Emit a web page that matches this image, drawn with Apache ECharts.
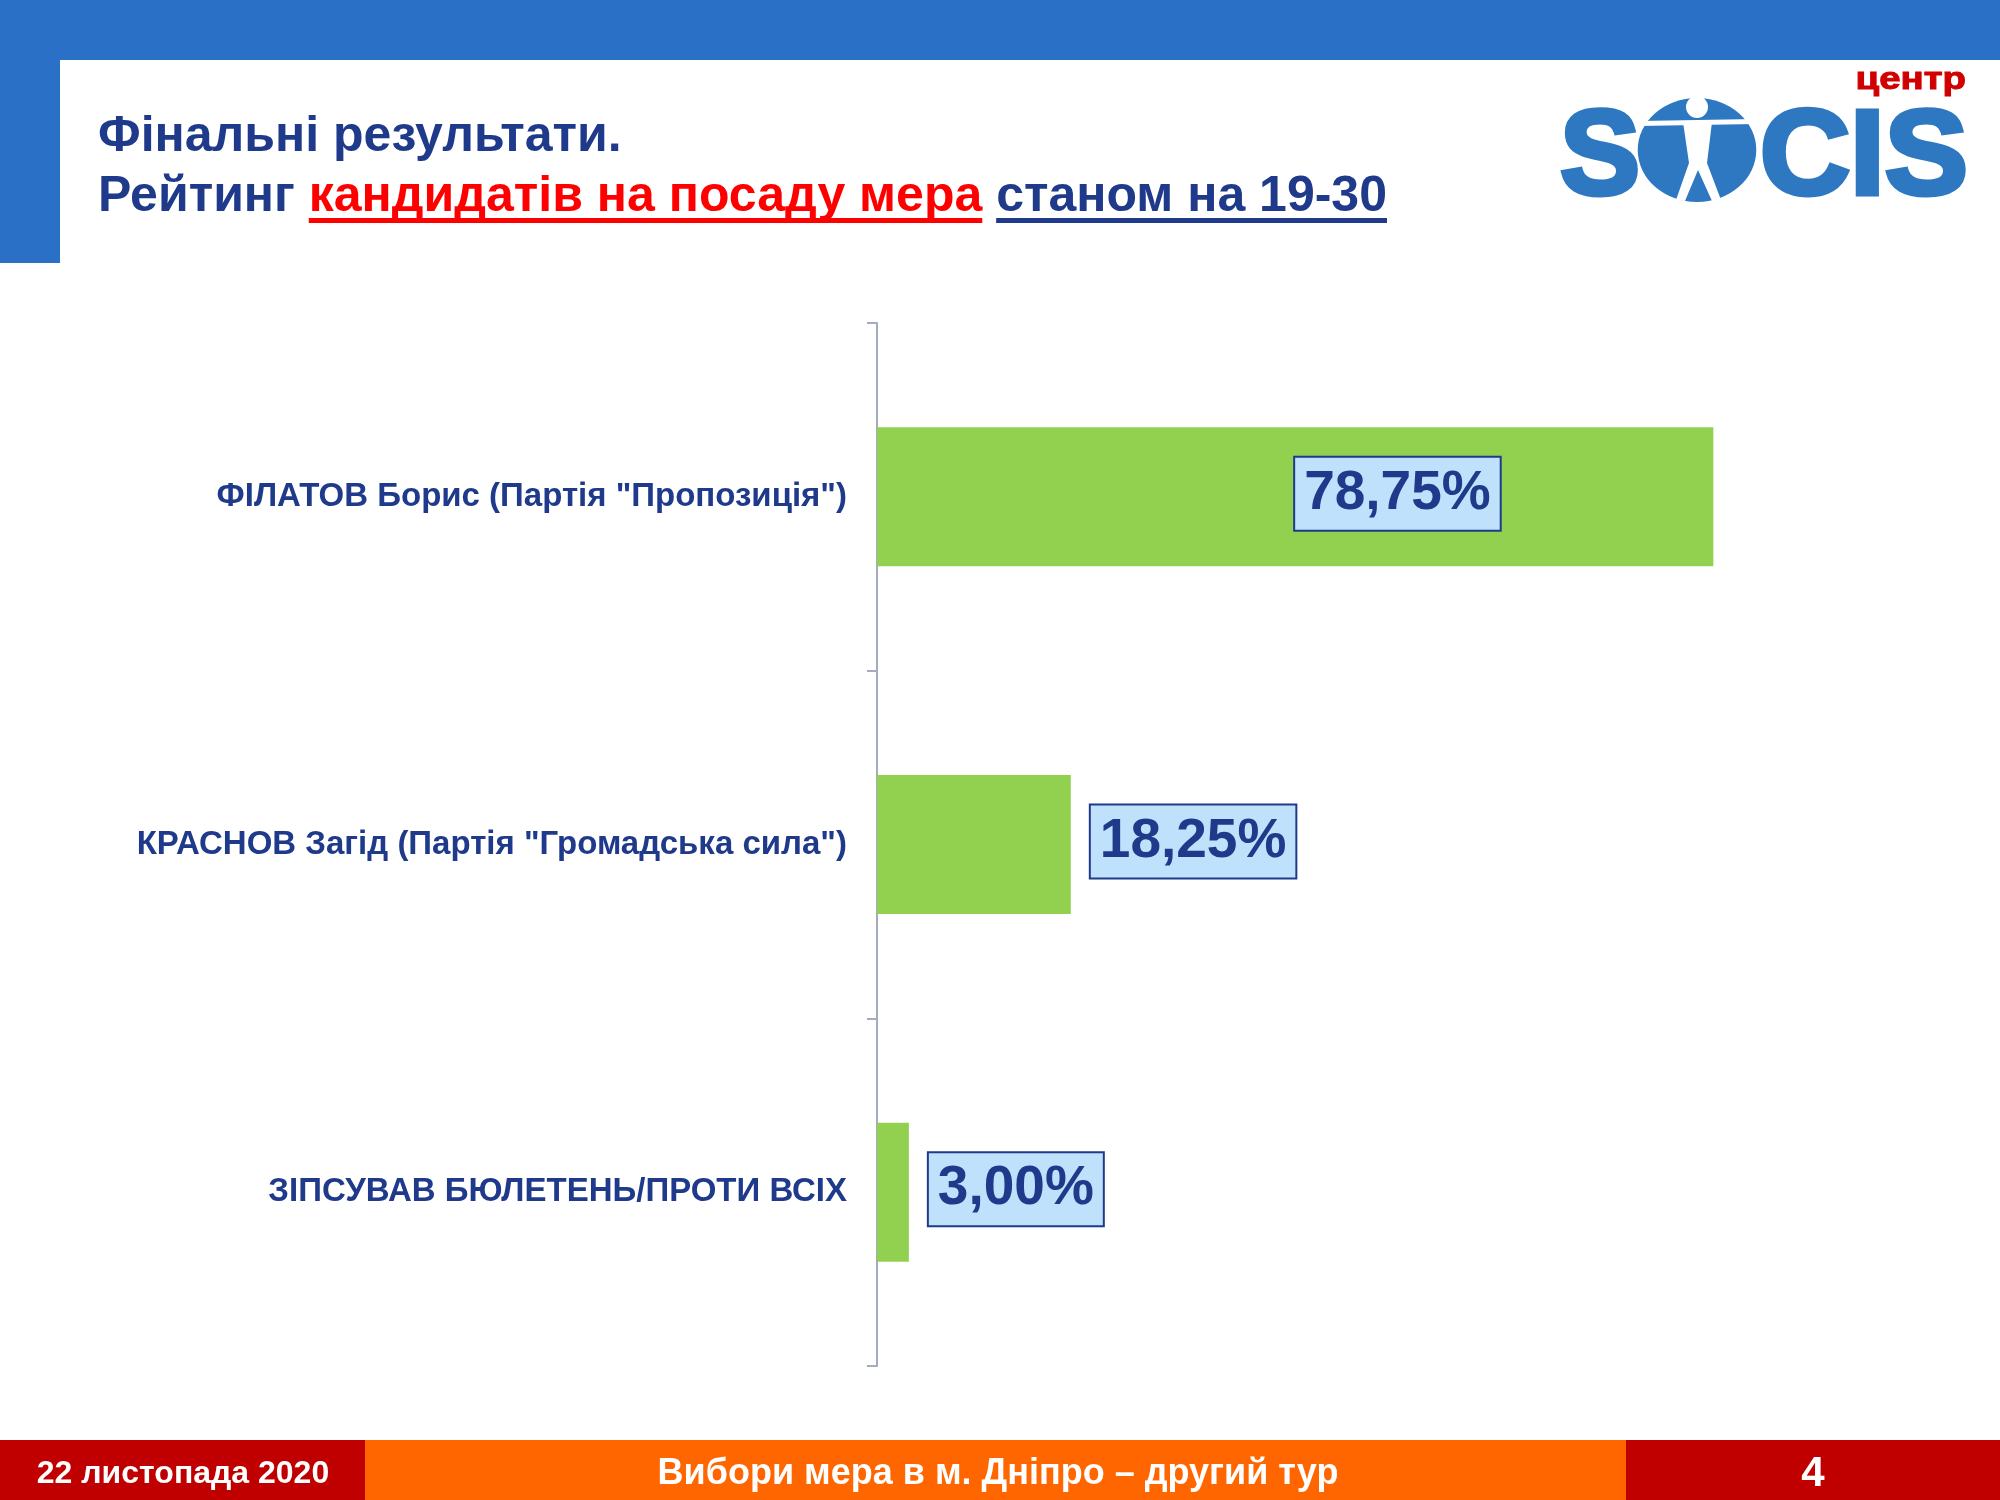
<!DOCTYPE html>
<html>
<head>
<meta charset="utf-8">
<script src="https://cdn.jsdelivr.net/npm/echarts@6/dist/echarts.min.js"></script>
<style>
html,body{margin:0;padding:0;background:#fff;}
#chart{width:2000px;height:1500px;}
</style>
</head>
<body>
<div id="chart"></div>
<script>
// ---- data ----
const categories = [
  'ФІЛАТОВ Борис (Партія "Пропозиція")',
  'КРАСНОВ Загід (Партія "Громадська сила")',
  'ЗІПСУВАВ БЮЛЕТЕНЬ/ПРОТИ ВСІХ'
];
const values = [78.75, 18.25, 3.00];
const titleLine1 = 'Фінальні результати.';
const titleParts = ['Рейтинг ', 'кандидатів на посаду мера', ' ', 'станом на 19-30'];
const footerLeft = '22 листопада 2020';
const footerCenter = 'Вибори мера в м. Дніпро – другий тур';
const footerRight = '4';

// ---- styles ----
const FONT = '"Liberation Sans", Arial, sans-serif';
const NAVY = '#1F3A8A';
const BLUE = '#2A70C6';
const LOGO = '#2E78C2';
const GREEN = '#92D050';

const chart = echarts.init(document.getElementById('chart'), null, {renderer: 'canvas'});

// measure text widths for title underlines
const cvs = document.createElement('canvas').getContext('2d');
const TITLE_SIZE = 50;
cvs.font = 'bold ' + TITLE_SIZE + 'px ' + FONT;
const w = titleParts.map(t => cvs.measureText(t).width);
const TX = 98;
const x1 = TX + w[0];
const x2 = x1 + w[1];
const x3 = x2 + w[2];
const x4 = x3 + w[3];

const dataItems = values.map((v, i) => i === 0
  ? {value: v, label: {position: ['50%', '50%'], align: 'left', verticalAlign: 'middle'}}
  : {value: v});

const option = {
  backgroundColor: '#ffffff',
  animation: false,
  grid: {left: 877, top: 323, width: 1062, height: 1043, containLabel: false},
  xAxis: {type: 'value', min: 0, max: 100, show: false},
  yAxis: {
    type: 'category',
    inverse: true,
    data: categories,
    axisLine: {show: true, lineStyle: {color: '#A4AABF', width: 2}},
    axisTick: {show: true, length: 10, inside: false, lineStyle: {color: '#A4AABF', width: 2}},
    axisLabel: {margin: 30, color: NAVY, fontSize: 33, fontWeight: 'bold', fontFamily: FONT}
  },
  series: [{
    type: 'bar',
    data: dataItems,
    barCategoryGap: '60%',
    itemStyle: {color: GREEN},
    label: {
      show: true,
      position: 'right',
      distance: 20,
      offset: [0, -3],
      formatter: p => p.value.toFixed(2).replace('.', ',') + '%',
      color: NAVY,
      fontSize: 55,
      fontWeight: 'bold',
      fontFamily: FONT,
      backgroundColor: '#BFE1FB',
      borderColor: '#1F3A8A',
      borderWidth: 2,
      padding: [7, 9, 5, 9],
      lineHeight: 60
    }
  }],
  graphic: [
    // header bars
    {type: 'rect', left: 0, top: 0, shape: {width: 2000, height: 60}, style: {fill: BLUE}, z: 1},
    {type: 'rect', left: 0, top: 0, shape: {width: 60, height: 263}, style: {fill: BLUE}, z: 1},
    // title
    {type: 'text', x: TX, y: 162, z: 5, style: {text: titleLine1, fill: NAVY, font: 'bold ' + TITLE_SIZE + 'px ' + FONT, verticalAlign: 'bottom'}},
    {type: 'text', x: TX, y: 222, z: 5, style: {
      text: '{a|' + titleParts[0] + '}{r|' + titleParts[1] + '}{a|' + titleParts[2] + '}{a|' + titleParts[3] + '}',
      verticalAlign: 'bottom',
      rich: {
        a: {fill: NAVY, color: NAVY, fontSize: TITLE_SIZE, fontWeight: 'bold', fontFamily: FONT},
        r: {fill: '#FF0000', color: '#FF0000', fontSize: TITLE_SIZE, fontWeight: 'bold', fontFamily: FONT}
      }
    }},
    {type: 'rect', z: 5, shape: {x: x1, y: 218, width: x2 - x1, height: 5}, style: {fill: '#FF0000'}},
    {type: 'rect', z: 5, shape: {x: x3, y: 218, width: x4 - x3, height: 5}, style: {fill: NAVY}},
    // logo
    {type: 'text', x: 1966, y: 96, scaleX: 1.2, originX: 0, originY: 0, z: 5, style: {text: 'центр', fill: '#D00000', stroke: '#D00000', lineWidth: 1, font: 'bold 32px ' + FONT, align: 'right', verticalAlign: 'bottom'}},
    {type: 'text', x: 1560, y: 221, z: 5, style: {text: 'S', fill: LOGO, stroke: LOGO, lineWidth: 5, font: 'bold 120px ' + FONT, verticalAlign: 'bottom'}},
    {type: 'text', x: 1968, y: 221, z: 5, scaleX: 1.04, originX: 0, originY: 0, style: {text: 'CIS', fill: LOGO, stroke: LOGO, lineWidth: 5, font: 'bold 120px ' + FONT, align: 'right', verticalAlign: 'bottom'}},
    {type: 'circle', z: 5, shape: {cx: 1697, cy: 150, r: 52}, scaleX: 1.14, originX: 1697, originY: 150, style: {fill: LOGO}},
    {type: 'circle', z: 6, shape: {cx: 1697, cy: 107, r: 11}, style: {fill: '#ffffff'}},
    {type: 'polygon', z: 6, shape: {points: [[1639, 121], [1756, 119], [1756, 124], [1639, 126]]}, style: {fill: '#ffffff'}},
    {type: 'polygon', z: 6, shape: {points: [[1683, 122], [1712, 122], [1707, 163], [1721, 200], [1712, 201], [1698, 170], [1685, 201], [1676, 200], [1689, 163]]}, style: {fill: '#ffffff'}},
    // footer
    {type: 'rect', z: 1, shape: {x: 0, y: 1440, width: 365, height: 60}, style: {fill: '#C00000'}},
    {type: 'rect', z: 1, shape: {x: 365, y: 1440, width: 1261, height: 60}, style: {fill: '#FF6600'}},
    {type: 'rect', z: 1, shape: {x: 1626, y: 1440, width: 374, height: 60}, style: {fill: '#C00000'}},
    {type: 'text', z: 5, x: 183, y: 1474, style: {text: footerLeft, fill: '#fff', font: 'bold 32px ' + FONT, align: 'center', verticalAlign: 'middle'}},
    {type: 'text', z: 5, x: 998, y: 1474, style: {text: footerCenter, fill: '#fff', font: 'bold 36px ' + FONT, align: 'center', verticalAlign: 'middle'}},
    {type: 'text', z: 5, x: 1813, y: 1474, style: {text: footerRight, fill: '#fff', font: 'bold 42px ' + FONT, align: 'center', verticalAlign: 'middle'}}
  ]
};
chart.setOption(option);
</script>
</body>
</html>
